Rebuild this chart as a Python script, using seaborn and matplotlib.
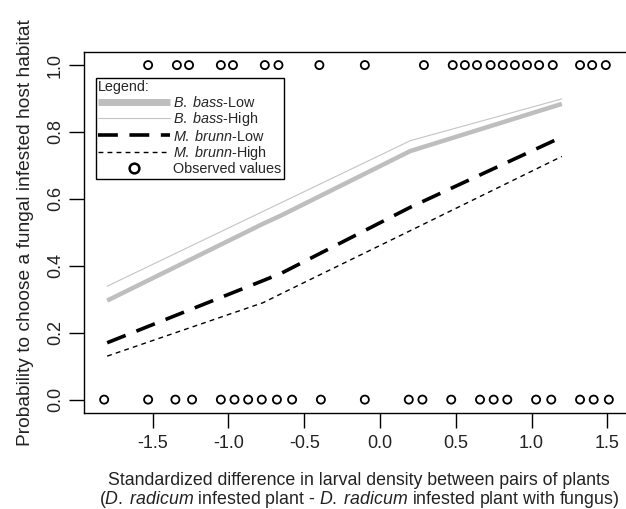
import matplotlib
matplotlib.use("Agg")
import matplotlib.pyplot as plt
from matplotlib.lines import Line2D
import seaborn as sns
import pandas as pd

# observed choices (0 = not fungal plant, 1 = fungal plant)
obs_x_top = [-1.53, -1.34, -1.26, -1.05, -0.97, -0.76, -0.67, -0.40, -0.10, 0.29,
             0.48, 0.56, 0.64, 0.73, 0.81, 0.89, 0.97, 1.05, 1.14, 1.32, 1.40, 1.49]
obs_x_bottom = [-1.82, -1.53, -1.35, -1.24, -1.05, -0.96, -0.87, -0.78, -0.68, -0.58,
                -0.39, -0.10, 0.19, 0.28, 0.47, 0.66, 0.75, 0.84, 1.03, 1.13, 1.32, 1.41, 1.51]

# fitted probabilities
fit_x = [-1.8, -0.77, -0.65, 0.2, 1.2]
bb_low = [0.296, 0.526, 0.551, 0.743, 0.884]
bb_high = [0.339, 0.563, 0.589, 0.774, 0.899]
mb_low = [0.170, 0.356, 0.378, 0.575, 0.785]
mb_high = [0.130, 0.290, 0.317, 0.505, 0.727]

obs = pd.DataFrame({
    "x": obs_x_top + obs_x_bottom,
    "y": [1] * len(obs_x_top) + [0] * len(obs_x_bottom),
})
fit = pd.DataFrame({"x": fit_x, "bb_low": bb_low, "bb_high": bb_high,
                    "mb_low": mb_low, "mb_high": mb_high})

sns.set_style("ticks")
plt.rcParams['font.family'] = ['Liberation Sans', 'DejaVu Sans']
plt.rcParams['mathtext.fontset'] = 'custom'
plt.rcParams['mathtext.rm'] = 'Liberation Sans'
plt.rcParams['mathtext.it'] = 'Liberation Sans:italic'
plt.rcParams['axes.unicode_minus'] = False

fig = plt.figure(figsize=(6.26, 5.09), dpi=100)
ax = fig.add_axes([84 / 626, 1 - 413 / 509, 545 / 626, 361.3 / 509])

sns.lineplot(data=fit, x="x", y="bb_low", ax=ax, color="#bebebe", lw=3.2,
             solid_capstyle="butt")
sns.lineplot(data=fit, x="x", y="bb_high", ax=ax, color="#c4c4c4", lw=0.8)
sns.lineplot(data=fit, x="x", y="mb_low", ax=ax, color="black", lw=2.6,
             linestyle=(0, (5.5, 3.2)))
sns.lineplot(data=fit, x="x", y="mb_high", ax=ax, color="black", lw=1.0,
             linestyle=(0, (3.5, 3)))
sns.scatterplot(data=obs, x="x", y="y", ax=ax, marker="o", s=34,
                facecolor="none", edgecolor="black", linewidth=1.3, zorder=5)

ax.set_xlim(-1.953, 1.643)
ax.set_ylim(-0.04, 1.04)
ax.set_xticks([-1.5, -1.0, -0.5, 0.0, 0.5, 1.0, 1.5])
ax.set_xticklabels(["-1.5", "-1.0", "-0.5", "0.0", "0.5", "1.0", "1.5"])
ax.set_yticks([0, 0.2, 0.4, 0.6, 0.8, 1.0])
ax.set_yticklabels(["0.0", "0.2", "0.4", "0.6", "0.8", "1.0"], rotation=90, va="center")
ax.tick_params(axis="both", direction="out", length=10.5, width=1.0,
               color="black", labelsize=13, labelcolor="#222222")
ax.tick_params(axis="x", pad=5)
ax.tick_params(axis="y", pad=4)
for s in ax.spines.values():
    s.set_color("black")
    s.set_linewidth(1.0)

ax.set_xlabel("Standardized difference in larval density between pairs of plants\n"
              r"($\mathit{D.\;radicum}$ infested plant - $\mathit{D.\;radicum}$ infested plant with fungus)",
              fontsize=12.8, linespacing=1.0, labelpad=14.5, color="#222222")
ax.xaxis.label.set_x(0.505)
ax.set_ylabel("Probability to choose a fungal infested host habitat",
              fontsize=13.8, labelpad=9, color="#222222")

handles = [
    Line2D([], [], color="#bebebe", lw=5.0, solid_capstyle="butt"),
    Line2D([], [], color="#c4c4c4", lw=0.8),
    Line2D([], [], color="black", lw=2.6, linestyle=(0, (5.5, 3.2))),
    Line2D([], [], color="black", lw=1.0, linestyle=(0, (3.5, 3))),
    Line2D([], [], color="black", lw=0, marker="o", markersize=7,
           markerfacecolor="none", markeredgewidth=1.8),
]
labels = [r"$\mathit{B.\;bass}$-Low", r"$\mathit{B.\;bass}$-High",
          r"$\mathit{M.\;brunn}$-Low", r"$\mathit{M.\;brunn}$-High", "Observed values"]
leg = ax.legend(handles, labels, title="Legend:", loc="upper left",
                bbox_to_anchor=(0.022, 0.927), borderaxespad=0, fontsize=10.4,
                title_fontsize=10.4, frameon=True, fancybox=False, edgecolor="black",
                framealpha=1, handlelength=5.0, handletextpad=0.2,
                labelspacing=0.03, borderpad=0.15, alignment="left")
leg.get_frame().set_linewidth(1.0)

fig.savefig("out.png", dpi=100)
